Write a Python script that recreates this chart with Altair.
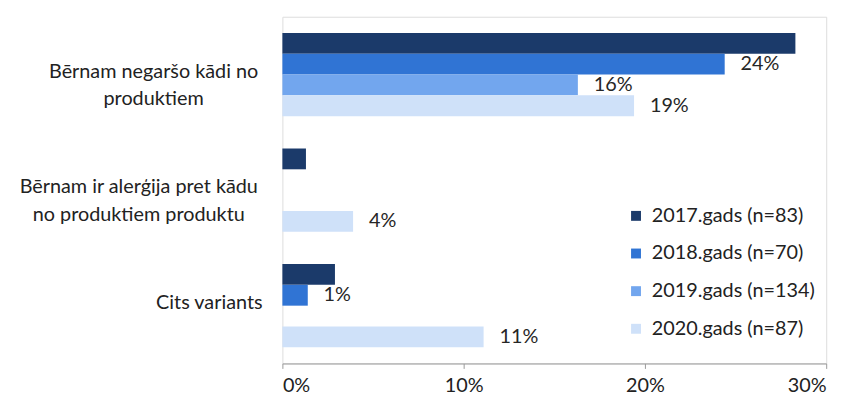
import altair as alt
import pandas as pd

categories = [
    "Bērnam negaršo kādi no produktiem",
    "Bērnam ir alerģija pret kādu no produktiem produktu",
    "Cits variants",
]
category_lines = [
    ["Bērnam negaršo kādi no", "produktiem"],
    ["Bērnam ir alerģija pret kādu", "no produktiem produktu"],
    ["Cits variants"],
]
series = ["2017.gads (n=83)", "2018.gads (n=70)", "2019.gads (n=134)", "2020.gads (n=87)"]
values_2017 = [28.3, 1.3, 2.9]
values_2018 = [24.4, 0.0, 1.4]
values_2019 = [16.3, 0.0, 0.0]
values_2020 = [19.4, 3.9, 11.1]
colors = ["#1b3a6a", "#3074d4", "#72a6ee", "#cfe1f9"]
x_ticks = [0, 10, 20, 30]

FONT = "Lato"
FS = 20

all_values = [values_2017, values_2018, values_2019, values_2020]
rows = []
for s, vals in zip(series, all_values):
    for c, v in zip(categories, vals):
        rows.append({"category": c, "series": s, "value": v})
df = pd.DataFrame(rows)

lab_df = pd.DataFrame({"category": categories, "lines": category_lines})

y_enc = alt.Y(
    "category:N",
    sort=categories,
    scale=alt.Scale(domain=categories, paddingInner=0.28, paddingOuter=0.14),
    axis=alt.Axis(
        labels=False, title=None, tickBand="extent", tickSize=5,
        domainColor="#9a9a9a", tickColor="#9a9a9a",
    ),
)
y_enc_noaxis = alt.Y("category:N", sort=categories, axis=None)
yoff = alt.YOffset("series:N", sort=series, scale=alt.Scale(domain=series, paddingInner=0, paddingOuter=0))
x_enc = alt.X(
    "value:Q",
    scale=alt.Scale(domain=[0, 30], nice=False),
    axis=alt.Axis(
        values=x_ticks, labelExpr="datum.value + '%'", grid=False, title=None,
        tickSize=5, domainColor="#9a9a9a", tickColor="#9a9a9a",
        labelFontSize=FS, labelColor="#222222", labelPadding=7, labelFont=FONT,
    ),
)

bars = alt.Chart(df).mark_bar().encode(
    y=y_enc,
    yOffset=yoff,
    x=x_enc,
    color=alt.Color(
        "series:N",
        sort=series,
        scale=alt.Scale(domain=series, range=colors),
        legend=alt.Legend(
            title=None, orient="none", legendX=347, legendY=191,
            symbolType="square", symbolSize=100, symbolStrokeWidth=0,
            labelFontSize=FS, labelFont=FONT, labelColor="#222222",
            rowPadding=18, labelOffset=6, labelLimit=0,
        ),
    ),
)

bar_labels = alt.Chart(df).transform_filter(
    f"datum.series != '{series[0]}' && datum.value > 0"
).transform_calculate(
    txt="format(datum.value / 100, '.0%')"
).mark_text(
    align="left", baseline="middle", dx=16, fontSize=FS, font=FONT, color="#262626"
).encode(
    y=y_enc_noaxis,
    yOffset=yoff,
    x=alt.X("value:Q"),
    text="txt:N",
)

# category labels: wrapped lines centred within a right-aligned block
label_centres = [-130, -145]
cat_layers = []
for i, cx in enumerate(label_centres):
    cat_layers.append(
        alt.Chart(lab_df).transform_filter(
            f"datum.category == '{categories[i]}'"
        ).mark_text(
            align="center", baseline="middle", fontSize=FS, font=FONT, color="#222222",
            lineHeight=28, dy=-3,
        ).encode(y=y_enc_noaxis, x=alt.value(cx), text="lines")
    )
cat_layers.append(
    alt.Chart(lab_df).transform_filter(
        f"datum.category == '{categories[2]}'"
    ).mark_text(
        align="right", baseline="middle", fontSize=FS, font=FONT, color="#222222", dy=-3,
    ).encode(y=y_enc_noaxis, x=alt.value(-20), text="lines")
)

chart = alt.layer(bars, bar_labels, *cat_layers).properties(
    width=549,
    height=350,
    padding={"left": 277, "top": 7, "right": 22, "bottom": 30},
    autosize="none",
).configure_view(stroke=None).configure(background="white")

chart.save("out.html", embed_options={"renderer": "svg", "actions": False})
